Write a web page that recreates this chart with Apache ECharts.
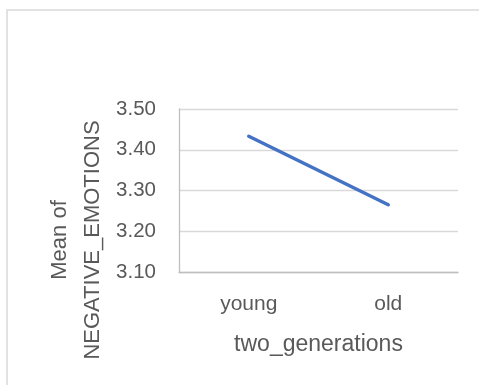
<!DOCTYPE html>
<html>
<head>
<meta charset="utf-8">
<script src="https://cdn.jsdelivr.net/npm/echarts@6/dist/echarts.min.js"></script>
<style>
  html, body { margin: 0; padding: 0; background: #ffffff; }
  #chart { width: 479px; height: 385px; }
</style>
</head>
<body>
<div id="chart"></div>
<script>
// Mean negative emotions by generation
const categories = ['young', 'old'];
const meanValues = [3.433, 3.265];
const yTicks = [3.10, 3.20, 3.30, 3.40, 3.50];
const xTitle = 'two_generations';
const yTitleLines = ['Mean of', 'NEGATIVE_EMOTIONS'];

const FONT = '"Liberation Sans", Arial, sans-serif';
const TEXT = '#595959';

const chart = echarts.init(document.getElementById('chart'), null, { renderer: 'canvas' });

chart.setOption({
  animation: false,
  backgroundColor: '#ffffff',
  grid: { left: 179, top: 109, right: 21, bottom: 113, containLabel: false },
  xAxis: {
    type: 'category',
    data: categories,
    boundaryGap: true,
    axisLine: { show: true, lineStyle: { color: '#bfbfbf', width: 1.3 } },
    axisTick: { show: false },
    axisLabel: { color: TEXT, fontFamily: FONT, fontSize: 21, margin: 22 },
    name: xTitle,
    nameLocation: 'middle',
    nameGap: 61,
    nameTextStyle: { color: TEXT, fontFamily: FONT, fontSize: 23 }
  },
  yAxis: {
    type: 'value',
    min: yTicks[0],
    max: yTicks[yTicks.length - 1],
    interval: 0.1,
    axisLine: { show: true, lineStyle: { color: '#bfbfbf', width: 1.3 } },
    axisTick: { show: false },
    splitLine: { show: true, lineStyle: { color: '#d9d9d9', width: 1.3 } },
    axisLabel: {
      color: TEXT, fontFamily: FONT, fontSize: 20.5, margin: 23,
      formatter: v => v.toFixed(2)
    }
  },
  graphic: [
    {
      type: 'rect',
      shape: { x: 7, y: 10, width: 520, height: 420 },
      style: { fill: 'none', stroke: '#d9d9d9', lineWidth: 1.5 },
      silent: true
    },
    {
      type: 'text',
      x: 76,
      y: 240,
      rotation: Math.PI / 2,
      style: {
        text: yTitleLines.join('\n'),
        fill: TEXT,
        font: '22px ' + FONT,
        lineHeight: 33,
        align: 'center',
        verticalAlign: 'middle'
      }
    }
  ],
  series: [
    {
      type: 'line',
      data: meanValues,
      symbol: 'none',
      lineStyle: { color: '#4472c4', width: 3.5, cap: 'round' },
      itemStyle: { color: '#4472c4' }
    }
  ]
});
</script>
</body>
</html>
